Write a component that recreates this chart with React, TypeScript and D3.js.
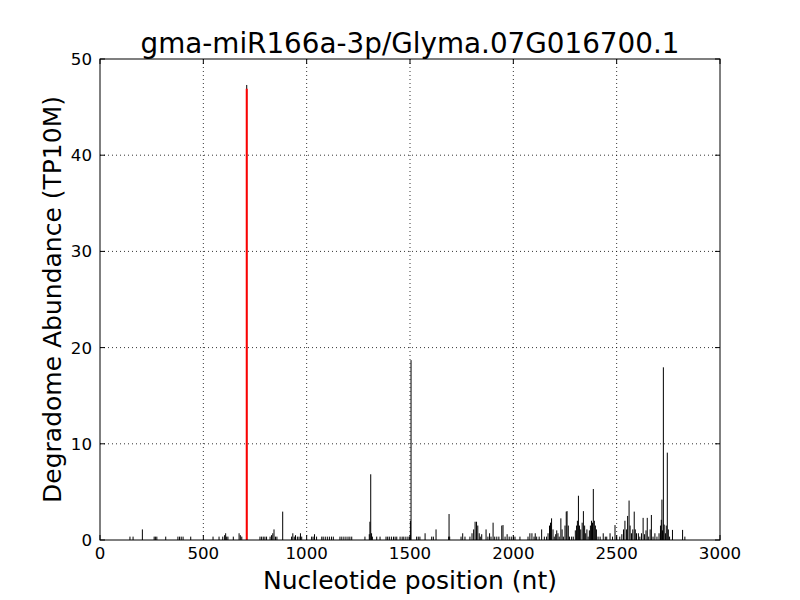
import React from "react";
import * as d3 from "d3";

const title = "gma-miR166a-3p/Glyma.07G016700.1";
const xLabel = "Nucleotide position (nt)";
const yLabel = "Degradome Abundance (TP10M)";
const xTicks = [0, 500, 1000, 1500, 2000, 2500, 3000];
const yTicks = [0, 10, 20, 30, 40, 50];

const positions = [
  145, 160, 205, 262, 268, 275, 318, 377, 385, 393, 402, 439, 547, 576, 594, 603, 608, 613, 619, 645, 673, 679, 686, 710,
  774, 782, 790, 798, 806, 823, 830, 836, 842, 849, 856, 884, 927, 933, 940, 946, 955, 963, 970, 976,
  1024, 1031, 1038, 1048, 1073, 1080, 1090, 1100, 1110, 1120, 1129, 1161, 1170, 1180, 1190, 1200, 1209, 1218,
  1282, 1303, 1306, 1310, 1314, 1318, 1339, 1355, 1384, 1392, 1400, 1410, 1420, 1428, 1436, 1452, 1462, 1470, 1480, 1490, 1497,
  1502, 1505, 1532, 1540, 1548, 1573, 1605, 1613, 1626, 1687, 1689, 1692, 1747, 1755, 1766, 1790, 1800, 1808, 1815, 1822, 1828,
  1835, 1840, 1847, 1868, 1877, 1885, 1892, 1902, 1910, 1920, 1930, 1944, 1950, 1960, 1970, 1980, 1990, 2000, 2008, 2032,
  2071, 2080, 2090, 2100, 2106, 2113, 2125, 2137, 2150, 2161, 2168, 2175, 2180, 2185, 2192, 2198, 2205, 2210, 2216, 2222,
  2230, 2236, 2242, 2250, 2256, 2260, 2266, 2272, 2282, 2290, 2300, 2306, 2310, 2315, 2320, 2326, 2333, 2339, 2345, 2350,
  2356, 2362, 2368, 2373, 2378, 2383, 2387, 2392, 2397, 2402, 2410, 2420, 2435, 2445, 2452, 2468, 2480, 2492, 2500, 2515,
  2525, 2533, 2540, 2548, 2553, 2560, 2565, 2572, 2578, 2585, 2590, 2596, 2605, 2612, 2620, 2628, 2635, 2642, 2648, 2655,
  2662, 2668, 2676, 2685, 2695, 2705, 2712, 2716, 2719, 2722, 2726, 2730, 2736, 2740, 2745, 2750, 2756, 2770, 2819, 2830,
];
const abundances = [
  0.35, 0.35, 1.1, 0.35, 0.35, 0.35, 0.35, 0.35, 0.35, 0.35, 0.35, 0.35, 0.35, 0.35, 0.35, 0.5, 0.7, 0.35, 0.35, 0.35, 0.7, 0.5, 0.35, 47.3,
  0.35, 0.35, 0.35, 0.35, 0.35, 0.35, 0.5, 0.7, 1.1, 0.35, 0.35, 2.95, 0.35, 0.7, 0.35, 0.5, 0.35, 0.35, 0.7, 0.35,
  0.35, 0.35, 0.6, 0.35, 0.35, 0.35, 0.35, 0.35, 0.35, 0.35, 0.35, 0.35, 0.35, 0.35, 0.35, 0.35, 0.35, 0.35,
  0.35, 0.6, 1.9, 6.83, 0.7, 0.35, 0.35, 0.35, 0.35, 0.35, 0.35, 0.35, 0.35, 0.35, 0.35, 0.35, 0.35, 0.35, 0.35, 0.35, 0.35,
  2.0, 18.7, 0.35, 0.35, 0.35, 0.7, 0.35, 0.35, 1.1, 0.35, 2.7, 0.35, 0.35, 0.7, 0.35, 0.35, 0.7, 1.1, 1.9, 1.9, 1.5,
  0.7, 0.35, 0.6, 1.1, 0.35, 0.7, 0.35, 1.8, 0.35, 0.35, 0.35, 1.5, 1.55, 0.35, 0.6, 0.35, 0.35, 0.35, 0.35, 0.35,
  0.35, 0.7, 0.7, 0.35, 0.7, 0.35, 0.35, 1.1, 0.35, 0.35, 0.7, 1.5, 1.8, 2.25, 1.1, 0.35, 0.6, 1.0, 0.7, 0.35,
  2.25, 1.1, 0.35, 1.5, 2.95, 3.0, 1.5, 0.35, 0.35, 0.35, 1.0, 1.5, 2.0, 4.6, 1.5, 1.1, 1.8, 3.0, 1.5, 0.7,
  1.1, 0.35, 1.0, 1.5, 2.0, 1.8, 5.3, 2.0, 1.5, 1.1, 0.35, 0.35, 0.7, 0.35, 0.35, 0.7, 0.35, 1.55, 0.35, 0.35,
  0.6, 1.1, 2.0, 1.1, 2.5, 4.1, 1.5, 0.7, 1.1, 2.95, 1.1, 0.7, 0.7, 0.35, 0.7, 2.3, 0.6, 1.0, 2.3, 0.35,
  1.1, 2.6, 0.35, 0.7, 0.35, 0.7, 1.5, 2.1, 4.2, 1.0, 17.95, 1.6, 0.7, 1.5, 9.08, 1.1, 0.35, 1.05, 1.05, 0.35,
];
const cleavagePos = [710];
const cleavageVal = [46.9];

const W = 800, H = 600;
const L = 100, R = 720, T = 59, B = 540;

export default function App() {
  const x = d3.scaleLinear().domain([0, 3000]).range([L, R]);
  const y = d3.scaleLinear().domain([0, 50]).range([B, T]);
  const font = "'DejaVu Sans', sans-serif";
  const tl = 5;
  return (
    <div>
      <style>{"body{margin:0}"}</style>
      <svg width={W} height={H} style={{ display: "block", background: "#fff" }}>
        <rect x={0} y={0} width={W} height={H} fill="#fff" />
        {xTicks.slice(1, -1).map((t) => (
          <line key={"gx" + t} x1={x(t)} x2={x(t)} y1={T} y2={B} stroke="#000" strokeWidth={0.8} strokeDasharray="1,3" />
        ))}
        {yTicks.slice(1, -1).map((t) => (
          <line key={"gy" + t} x1={L} x2={R} y1={y(t)} y2={y(t)} stroke="#000" strokeWidth={0.8} strokeDasharray="1,3" />
        ))}
        {positions.map((p, i) => (
          <line key={"d" + i} x1={x(p)} x2={x(p)} y1={y(0)} y2={y(abundances[i])} stroke="#000" strokeWidth={1} />
        ))}
        {cleavagePos.map((p, i) => (
          <line key={"c" + i} x1={x(p)} x2={x(p)} y1={y(0)} y2={y(cleavageVal[i])} stroke="#ff0000" strokeWidth={2} />
        ))}
        <rect x={L} y={T} width={R - L} height={B - T} fill="none" stroke="#000" strokeWidth={1} />
        {xTicks.map((t) => (
          <g key={"xt" + t}>
            <line x1={x(t)} x2={x(t)} y1={B} y2={B - tl} stroke="#000" />
            <line x1={x(t)} x2={x(t)} y1={T} y2={T + tl} stroke="#000" />
            <text x={x(t)} y={B + 19} textAnchor="middle" fontFamily={font} fontSize={16.67}>{t}</text>
          </g>
        ))}
        {yTicks.map((t) => (
          <g key={"yt" + t}>
            <line x1={L} x2={L + tl} y1={y(t)} y2={y(t)} stroke="#000" />
            <line x1={R} x2={R - tl} y1={y(t)} y2={y(t)} stroke="#000" />
            <text x={L - 8} y={y(t) + 6} textAnchor="end" fontFamily={font} fontSize={16.67}>{t}</text>
          </g>
        ))}
        <text x={(L + R) / 2} y={53} textAnchor="middle" fontFamily={font} fontSize={27.8}>{title}</text>
        <text x={(L + R) / 2} y={589} textAnchor="middle" fontFamily={font} fontSize={25}>{xLabel}</text>
        <text transform={`translate(61,${(T + B) / 2}) rotate(-90)`} textAnchor="middle" fontFamily={font} fontSize={25}>{yLabel}</text>
      </svg>
    </div>
  );
}
